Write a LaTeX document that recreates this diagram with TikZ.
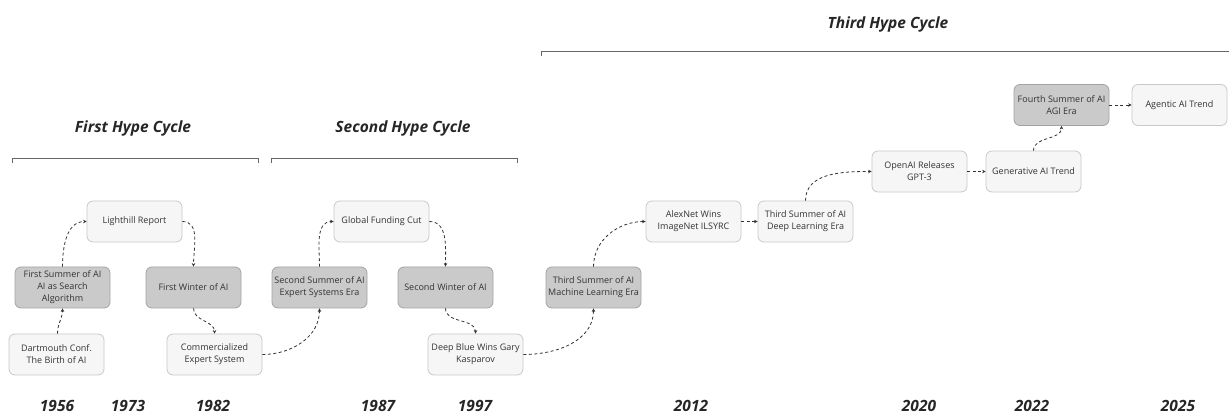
\documentclass[tikz,border=0pt]{standalone}
\usepackage{fontspec}
\setmainfont{Open Sans}
\usetikzlibrary{arrows.meta}
\definecolor{lightfill}{HTML}{F6F6F6}
\definecolor{lightedge}{HTML}{C9C9C9}
\definecolor{darkfill}{HTML}{CACACA}
\definecolor{darkedge}{HTML}{A3A3A3}
\definecolor{ink}{HTML}{333333}
\begin{document}
\begin{tikzpicture}[x=1pt,y=-1pt,
  event/.style={draw=lightedge,fill=lightfill,rounded corners=6pt,line width=0.8pt,
    minimum width=95pt,minimum height=41pt,inner sep=0pt,align=center,
    text=ink,font=\fontsize{9}{12}\selectfont},
  era/.style={event,draw=darkedge,fill=darkfill},
  link/.style={draw=ink,line width=0.8pt,dash pattern=on 3pt off 2.5pt,
    -{Stealth[length=3.5pt,width=3.5pt]}},
  year/.style={font=\fontsize{15.5}{18}\selectfont\bfseries\itshape,text=black!85},
  cycle/.style={font=\fontsize{15.5}{18}\selectfont\bfseries\itshape,text=black!85},
  bracket/.style={draw=black!60,line width=0.9pt}]
\useasboundingbox[fill=white] (0,0) rectangle (1229,419);

% first hype cycle
\node[event] (dart)  at (56.5,354.5) {Dartmouth Conf.\\The Birth of AI};
\node[era]   (sum1)  at (62.5,287.5) {First Summer of AI\\AI as Search\\Algorithm};
\node[event] (light) at (134.5,221.5) {Lighthill Report};
\node[era]   (win1)  at (193.5,287.5) {First Winter of AI};
\node[event] (comm)  at (214.5,354.5) {Commercialized\\Expert System};

% second hype cycle
\node[era]   (sum2)  at (319.5,287.5) {Second Summer of AI\\Expert Systems Era};
\node[event] (fund)  at (381.5,221.5) {Global Funding Cut};
\node[era]   (win2)  at (445.5,287.5) {Second Winter of AI};
\node[event] (blue)  at (475.5,354.5) {Deep Blue Wins Gary\\Kasparov};

% third hype cycle
\node[era]   (sum3)  at (593.5,287.5) {Third Summer of AI\\Machine Learning Era};
\node[event] (alex)  at (693.5,221.5) {AlexNet Wins\\ImageNet ILSYRC};
\node[event] (deep)  at (805.5,221.5) {Third Summer of AI\\Deep Learning Era};
\node[event] (gpt)   at (919.5,171.5) {OpenAI Releases\\GPT-3};
\node[event] (gen)   at (1033.5,171.5) {Generative AI Trend};
\node[era]   (sum4)  at (1061.5,105) {Fourth Summer of AI\\AGI Era};
\node[event] (agent) at (1179.5,105) {Agentic AI Trend};

% connectors
\draw[link] ([xshift=1pt]dart.north) to[out=90,in=-90] (sum1.south);
\draw[link] (sum1.north) to[out=90,in=180] (light.west);
\draw[link] (light.east) to[out=0,in=90] (win1.north);
\draw[link] (win1.south) to[out=-90,in=90] (comm.north);
\draw[link] (comm.east) to[out=0,in=-90] (sum2.south);
\draw[link] (sum2.north) to[out=90,in=180] (fund.west);
\draw[link] (fund.east) to[out=0,in=90] (win2.north);
\draw[link] (win2.south) to[out=-90,in=90] (blue.north);
\draw[link] (blue.east) to[out=0,in=-90] (sum3.south);
\draw[link] (sum3.north) to[out=90,in=180] (alex.west);
\draw[link] (alex.east) -- (deep.west);
\draw[link] (deep.north) to[out=90,in=180] (gpt.west);
\draw[link] (gpt.east) -- (gen.west);
\draw[link] (gen.north) to[out=90,in=-90] (sum4.south);
\draw[link] (sum4.east) -- (agent.west);

% cycle headings and brackets
\node[cycle] (c1) at (133,128) {First Hype Cycle};
\node[cycle] (c2) at (403,128) {Second Hype Cycle};
\node[cycle] (c3) at (888,24) {Third Hype Cycle};
\draw[bracket] (12,163) -- (12,158) -- (258,158) -- (258,163);
\draw[bracket] (271,163) -- (271,158) -- (517,158) -- (517,163);
\draw[bracket] (541,56) -- (541,51) -- (1229,51);

% years
\node[year] (y1956) at (57,406) {1956};
\node[year] (y1973) at (128,406) {1973};
\node[year] (y1982) at (213,406) {1982};
\node[year] (y1987) at (378,406) {1987};
\node[year] (y1997) at (475,406) {1997};
\node[year] (y2012) at (691,406) {2012};
\node[year] (y2020) at (919,406) {2020};
\node[year] (y2022) at (1032,406) {2022};
\node[year] (y2025) at (1178,406) {2025};
\end{tikzpicture}
\end{document}
